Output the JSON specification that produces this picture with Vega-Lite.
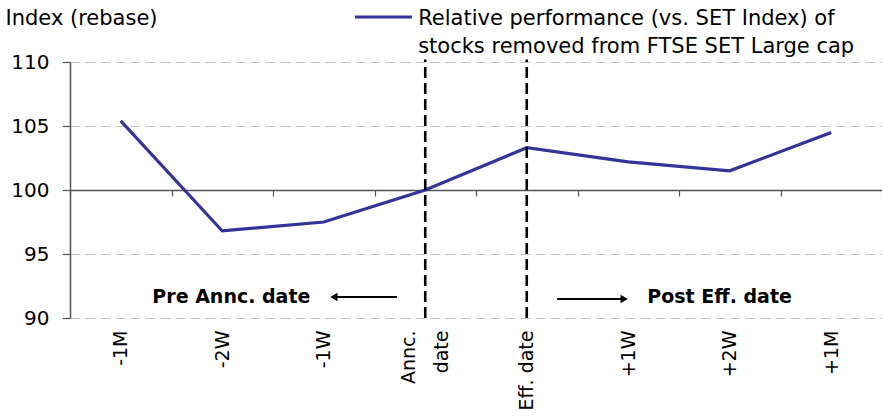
{
  "$schema": "https://vega.github.io/schema/vega-lite/v6.json",
  "autosize": {"type": "none"},
  "padding": {"left": 70, "top": 62, "right": 0, "bottom": 99},
  "width": 812,
  "height": 256,
  "background": "white",
  "config": {
    "view": {"stroke": null},
    "font": "DejaVu Sans"
  },
  "datasets": {
    "perf": [
      {"idx": 0, "period": "-1M", "value": 105.4},
      {"idx": 1, "period": "-2W", "value": 96.8},
      {"idx": 2, "period": "-1W", "value": 97.5},
      {"idx": 3, "period": "Annc. date", "value": 100.0},
      {"idx": 4, "period": "Eff. date", "value": 103.3},
      {"idx": 5, "period": "+1W", "value": 102.2},
      {"idx": 6, "period": "+2W", "value": 101.5},
      {"idx": 7, "period": "+1M", "value": 104.5}
    ],
    "markers": [
      {"idx": 3, "low": 90, "high": 110.2},
      {"idx": 4, "low": 90, "high": 110.2}
    ],
    "notes": [
      {"idx": 1.09, "value": 91.64, "text": "Pre Annc. date"},
      {"idx": 5.9, "value": 91.64, "text": "Post Eff. date"}
    ],
    "arrows": [
      {"start": 2.72, "end": 2.1, "value": 91.64, "head": "triangle-left"},
      {"start": 4.3, "end": 4.96, "value": 91.48, "head": "triangle-right"}
    ],
    "legendline": [
      {"start": 2.308, "end": 2.87, "value": 113.52}
    ],
    "legendtext": [
      {"idx": 2.93, "value": 112.89, "text": "Relative performance (vs. SET Index) of"},
      {"idx": 2.93, "value": 110.7, "text": "stocks removed from FTSE SET Large cap"}
    ]
  },
  "resolve": {"axis": {"x": "independent"}},
  "layer": [
    {
      "data": {"name": "perf"},
      "mark": {"type": "line", "strokeWidth": 3.2, "color": "#333399"},
      "encoding": {
        "x": {
          "field": "idx", "type": "quantitative",
          "scale": {"domain": [-0.5, 7.5], "nice": false, "zero": false},
          "axis": {
            "orient": "bottom", "values": [0, 1, 2, 3, 4, 5, 6, 7],
            "labelExpr": "['-1M', '-2W', '-1W', ['Annc.', 'date'], 'Eff. date', '+1W', '+2W', '+1M'][datum.value]",
            "labelAngle": -90, "labelPadding": 12, "labelFontSize": 19, "labelColor": "black",
            "labelLineHeight": 33, "labelFont": "DejaVu Sans",
            "labelOffset": {"condition": {"test": "datum.value === 3", "value": -17}, "value": 0},
            "ticks": false, "domain": false, "grid": false, "title": null, "labelOverlap": false
          }
        },
        "y": {
          "field": "value", "type": "quantitative",
          "scale": {"domain": [90, 110], "nice": false, "zero": false},
          "axis": {
            "values": [90, 95, 100, 105, 110],
            "grid": true, "gridDash": [10, 5], "gridColor": "#c4c4c4", "gridWidth": 1,
            "domainColor": "#555555", "domainWidth": 1.5,
            "tickColor": "#555555", "tickSize": 8, "tickWidth": 1.2,
            "labelPadding": 13, "labelFontSize": 20, "labelColor": "black", "labelFont": "DejaVu Sans",
            "title": "Index (rebase)", "titleAngle": 0, "titleAlign": "left", "titleBaseline": "alphabetic",
            "titleX": -65, "titleY": -38, "titleFontSize": 21, "titleFontWeight": "normal",
            "titleColor": "black", "titleFont": "DejaVu Sans"
          }
        }
      }
    },
    {
      "data": {"name": "perf"},
      "mark": {"type": "rule", "strokeWidth": 0},
      "encoding": {
        "x": {
          "field": "idx", "type": "quantitative",
          "axis": {
            "orient": "bottom", "offset": -128,
            "values": [-0.5, 0.5, 1.5, 2.5, 3.5, 4.5, 5.5, 6.5, 7.5],
            "labels": false, "grid": false, "title": null,
            "domainColor": "#555555", "domainWidth": 1.5,
            "tickColor": "#555555", "tickSize": 6, "tickWidth": 1.2
          }
        }
      }
    },
    {
      "data": {"name": "markers"},
      "mark": {"type": "rule", "color": "black", "strokeWidth": 2.6, "strokeDash": [11, 5]},
      "encoding": {
        "x": {"field": "idx", "type": "quantitative", "axis": null},
        "y": {"field": "low", "type": "quantitative"},
        "y2": {"field": "high"}
      }
    },
    {
      "data": {"name": "notes"},
      "mark": {"type": "text", "fontWeight": "bold", "fontSize": 19, "font": "DejaVu Sans", "color": "black", "baseline": "middle", "align": "center"},
      "encoding": {
        "x": {"field": "idx", "type": "quantitative", "axis": null},
        "y": {"field": "value", "type": "quantitative"},
        "text": {"field": "text"}
      }
    },
    {
      "data": {"name": "arrows"},
      "mark": {"type": "rule", "color": "black", "strokeWidth": 2},
      "encoding": {
        "x": {"field": "start", "type": "quantitative", "axis": null},
        "x2": {"field": "end"},
        "y": {"field": "value", "type": "quantitative"}
      }
    },
    {
      "data": {"name": "arrows"},
      "mark": {"type": "point", "filled": true, "color": "black", "size": 70, "opacity": 1},
      "encoding": {
        "x": {"field": "end", "type": "quantitative", "axis": null},
        "y": {"field": "value", "type": "quantitative"},
        "shape": {"field": "head", "type": "nominal", "scale": {"domain": ["triangle-left", "triangle-right"], "range": ["triangle-left", "triangle-right"]}, "legend": null}
      }
    },
    {
      "data": {"name": "legendline"},
      "mark": {"type": "rule", "color": "#333399", "strokeWidth": 3},
      "encoding": {
        "x": {"field": "start", "type": "quantitative", "axis": null},
        "x2": {"field": "end"},
        "y": {"field": "value", "type": "quantitative"}
      }
    },
    {
      "data": {"name": "legendtext"},
      "mark": {"type": "text", "fontSize": 21, "font": "DejaVu Sans", "color": "black", "baseline": "alphabetic", "align": "left"},
      "encoding": {
        "x": {"field": "idx", "type": "quantitative", "axis": null},
        "y": {"field": "value", "type": "quantitative"},
        "text": {"field": "text"}
      }
    }
  ]
}
